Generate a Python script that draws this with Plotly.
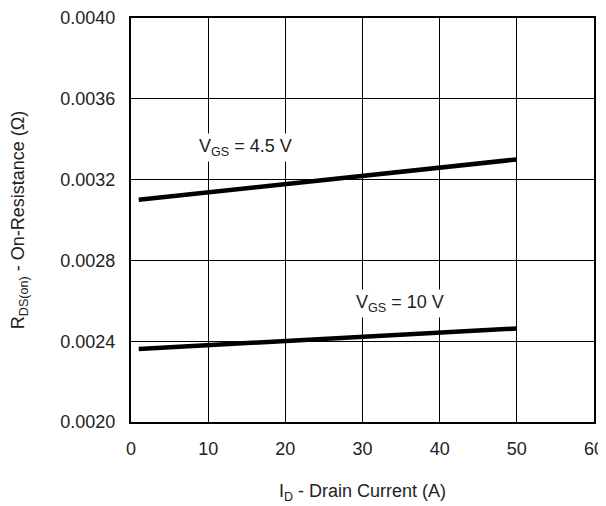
import plotly.graph_objects as go

# Data
id_current = [1, 50]
rds_vgs45 = [0.00310, 0.00330]
rds_vgs10 = [0.002362, 0.002463]

x_ticks = [0, 10, 20, 30, 40, 50, 60]
y_ticks = [0.0020, 0.0024, 0.0028, 0.0032, 0.0036, 0.0040]
y_tick_labels = ["0.0020", "0.0024", "0.0028", "0.0032", "0.0036", "0.0040"]

label_45 = "V<sub>GS</sub> = 4.5 V"
label_10 = "V<sub>GS</sub> = 10 V"

FONT = "Liberation Sans, Arial, Helvetica, sans-serif"
TXT = "#222222"
FS = 18

fig = go.Figure()
fig.add_trace(go.Scatter(x=id_current, y=rds_vgs45, mode="lines",
                         line=dict(color="black", width=4.5), showlegend=False))
fig.add_trace(go.Scatter(x=id_current, y=rds_vgs10, mode="lines",
                         line=dict(color="black", width=4.5), showlegend=False))

fig.add_annotation(x=14.9, y=0.003357, text=label_45, showarrow=False,
                   font=dict(family=FONT, size=FS, color=TXT),
                   bgcolor="white", borderpad=2)
fig.add_annotation(x=34.8, y=0.002589, text=label_10, showarrow=False,
                   font=dict(family=FONT, size=FS, color=TXT),
                   bgcolor="white", borderpad=2)

# the page body adds an 8px offset, so the figure is 8px smaller
fig.update_layout(
    template="none",
    width=598, height=498,
    margin=dict(l=123, r=12, t=10, b=84, autoexpand=False),
    paper_bgcolor="white", plot_bgcolor="white",
    font=dict(family=FONT, size=FS, color=TXT),
)
fig.update_xaxes(
    range=[0, 60], tickvals=x_ticks, ticktext=[str(v) for v in x_ticks],
    showgrid=True, gridcolor="black", gridwidth=1,
    showline=True, linecolor="black", linewidth=2, mirror=True,
    ticks="outside", ticklen=9, tickcolor="rgba(0,0,0,0)",
    zeroline=False, automargin=False,
    title=dict(text="I<sub>D</sub> - Drain Current (A)", standoff=27,
               font=dict(family=FONT, size=FS, color=TXT)),
)
fig.update_yaxes(
    range=[0.0020, 0.0040], tickvals=y_ticks, ticktext=y_tick_labels,
    showgrid=True, gridcolor="black", gridwidth=1,
    showline=True, linecolor="black", linewidth=2, mirror=True,
    ticks="outside", ticklen=10, tickcolor="rgba(0,0,0,0)",
    zeroline=False, automargin=False,
    title=dict(text="R<sub>DS(on)</sub> - On-Resistance (Ω)", standoff=34,
               font=dict(family=FONT, size=FS, color=TXT)),
)

fig.write_html("out.html")
